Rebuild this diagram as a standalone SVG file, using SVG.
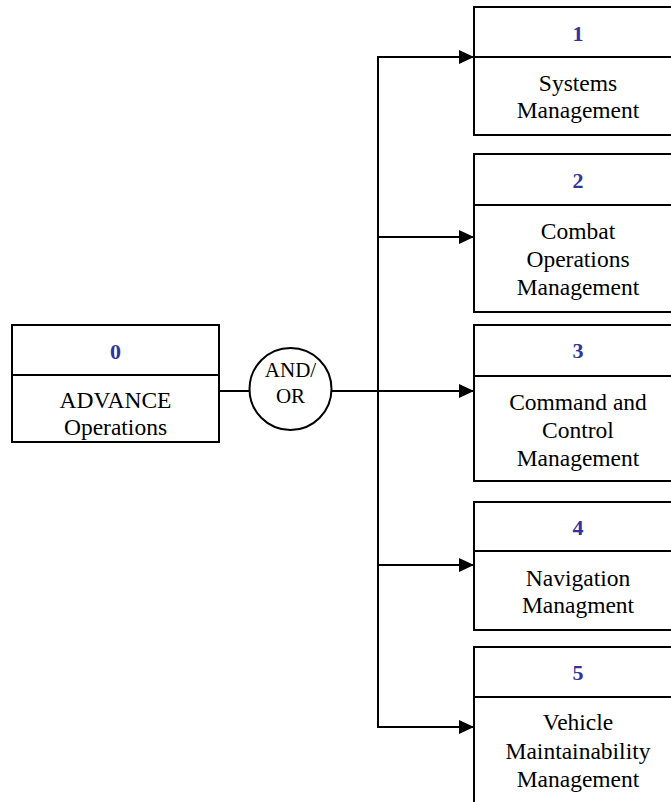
<svg xmlns="http://www.w3.org/2000/svg" width="671" height="802" viewBox="0 0 671 802">
  <style>
    .box { fill: #ffffff; stroke: #000000; stroke-width: 2; }
    .div { stroke: #000000; stroke-width: 2; }
    .num { font-family: "Liberation Serif", "Times New Roman", serif; font-size: 22px; font-weight: bold; fill: #333399; text-anchor: middle; }
    .lbl { font-family: "Liberation Serif", "Times New Roman", serif; font-size: 23.5px; fill: #000000; text-anchor: middle; }
    .gate { font-family: "Liberation Serif", "Times New Roman", serif; font-size: 21px; fill: #000000; text-anchor: middle; }
    .wire { fill: none; stroke: #000000; stroke-width: 2; }
  </style>
  <defs>
    <marker id="arrow" viewBox="0 0 15 14" refX="15" refY="7" markerWidth="15" markerHeight="14" markerUnits="userSpaceOnUse" orient="auto">
      <path d="M0,0 L15,7 L0,14 Z" fill="#000000"/>
    </marker>
  </defs>

  <rect width="671" height="802" fill="#ffffff"/>

  <!-- connectors -->
  <g id="connectors">
    <line class="wire" x1="219" y1="391" x2="249" y2="391"/>
    <line class="wire" x1="331" y1="391" x2="474" y2="391" marker-end="url(#arrow)"/>
    <line class="wire" x1="378" y1="56" x2="378" y2="728"/>
    <line class="wire" x1="377" y1="57" x2="474" y2="57" marker-end="url(#arrow)"/>
    <line class="wire" x1="377" y1="237" x2="474" y2="237" marker-end="url(#arrow)"/>
    <line class="wire" x1="377" y1="565" x2="474" y2="565" marker-end="url(#arrow)"/>
    <line class="wire" x1="377" y1="727" x2="474" y2="727" marker-end="url(#arrow)"/>
  </g>

  <!-- root activity -->
  <g id="node0">
    <rect class="box" x="12" y="325" width="207" height="117"/>
    <line class="div" x1="12" y1="375" x2="219" y2="375"/>
    <text class="num" x="115.5" y="359">0</text>
    <text class="lbl" x="115.5" y="408">ADVANCE</text>
    <text class="lbl" x="115.5" y="435">Operations</text>
  </g>

  <!-- AND/OR junction -->
  <g id="junction">
    <circle cx="290.5" cy="389" r="41" fill="#ffffff" stroke="#000000" stroke-width="2"/>
    <text class="gate" x="290.5" y="377">AND/</text>
    <text class="gate" x="290.5" y="403">OR</text>
  </g>

  <g id="node1">
    <rect class="box" x="474" y="7" width="220" height="128"/>
    <line class="div" x1="474" y1="57" x2="694" y2="57"/>
    <text class="num" x="578" y="41">1</text>
    <text class="lbl" x="578" y="91">Systems</text>
    <text class="lbl" x="578" y="118">Management</text>
  </g>

  <g id="node2">
    <rect class="box" x="474" y="154" width="220" height="158"/>
    <line class="div" x1="474" y1="205" x2="694" y2="205"/>
    <text class="num" x="578" y="188">2</text>
    <text class="lbl" x="578" y="239">Combat</text>
    <text class="lbl" x="578" y="267">Operations</text>
    <text class="lbl" x="578" y="295">Management</text>
  </g>

  <g id="node3">
    <rect class="box" x="474" y="325" width="220" height="156"/>
    <line class="div" x1="474" y1="376" x2="694" y2="376"/>
    <text class="num" x="578" y="358">3</text>
    <text class="lbl" x="578" y="410">Command and</text>
    <text class="lbl" x="578" y="438">Control</text>
    <text class="lbl" x="578" y="466">Management</text>
  </g>

  <g id="node4">
    <rect class="box" x="474" y="502" width="220" height="128"/>
    <line class="div" x1="474" y1="551" x2="694" y2="551"/>
    <text class="num" x="578" y="535">4</text>
    <text class="lbl" x="578" y="586">Navigation</text>
    <text class="lbl" x="578" y="613">Managment</text>
  </g>

  <g id="node5">
    <rect class="box" x="474" y="647" width="220" height="170"/>
    <line class="div" x1="474" y1="697" x2="694" y2="697"/>
    <text class="num" x="578" y="680">5</text>
    <text class="lbl" x="578" y="730">Vehicle</text>
    <text class="lbl" x="578" y="759">Maintainability</text>
    <text class="lbl" x="578" y="787">Management</text>
  </g>
</svg>
